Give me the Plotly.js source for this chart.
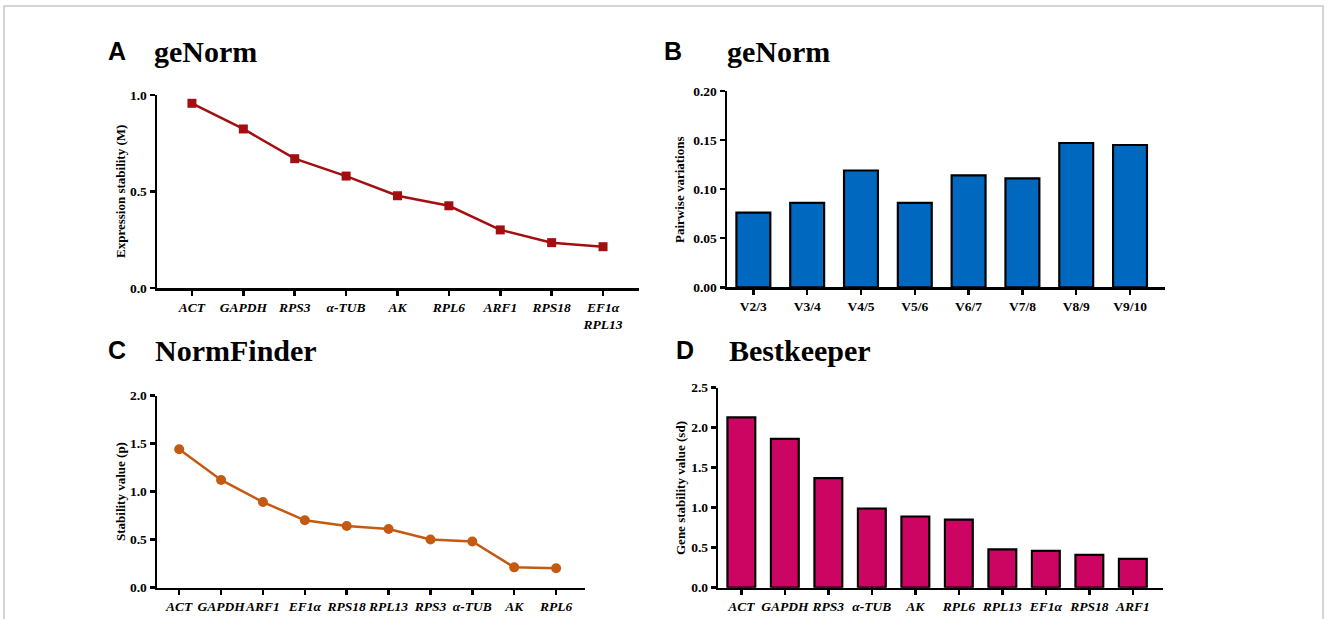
<!DOCTYPE html>
<html>
<head>
<meta charset="utf-8">
<script src="https://cdn.plot.ly/plotly-3.0.1.min.js"></script>
<style>html,body{margin:0;padding:0;background:#fff;}#chart{width:1328px;height:619px;}</style>
</head>
<body>
<div id="chart"></div>
<script>
// ---- Data ----
const genesA = ['ACT','GAPDH','RPS3','α-TUB','AK','RPL6','ARF1','RPS18','EF1α<br>RPL13'];
const valuesA = [0.957, 0.824, 0.670, 0.580, 0.478, 0.426, 0.301, 0.235, 0.214];

const pairsB = ['V2/3','V3/4','V4/5','V5/6','V6/7','V7/8','V8/9','V9/10'];
const valuesB = [0.076, 0.086, 0.119, 0.086, 0.114, 0.111, 0.147, 0.145];

const genesC = ['ACT','GAPDH','ARF1','EF1α','RPS18','RPL13','RPS3','α-TUB','AK','RPL6'];
const valuesC = [1.44, 1.12, 0.89, 0.70, 0.64, 0.61, 0.50, 0.48, 0.21, 0.20];

const genesD = ['ACT','GAPDH','RPS3','α-TUB','AK','RPL6','RPL13','EF1α','RPS18','ARF1'];
const valuesD = [2.13, 1.86, 1.37, 0.99, 0.89, 0.85, 0.48, 0.46, 0.41, 0.36];

// ---- Helpers ----
const W = 1328, H = 619;
const px = x => x / W;
const py = y => 1 - y / H;
const serif = 'Liberation Serif, Times New Roman, serif';
const sans = 'Liberation Sans, Arial, sans-serif';

function xAxis(dom, range, italic) {
  return {
    domain: [px(dom[0]), px(dom[1])], type: 'category', range: range,
    showline: true, linewidth: 2.5, linecolor: '#000', showgrid: false, zeroline: false,
    ticks: 'outside', ticklen: 5, tickwidth: 2.5, tickcolor: '#000', tickangle: 0,
    tickfont: {family: serif, size: 13.5, color: '#000', weight: 'bold', style: italic ? 'italic' : 'normal'},
    fixedrange: true
  };
}
function yAxis(dom, range, dtick, fmt) {
  return {
    domain: [py(dom[1]), py(dom[0])], range: range, dtick: dtick, tick0: 0, tickformat: fmt,
    showline: true, linewidth: 2.5, linecolor: '#000', showgrid: false, zeroline: false,
    ticks: 'outside', ticklen: 5, tickwidth: 2.5, tickcolor: '#000',
    tickfont: {family: serif, size: 13.5, color: '#000', weight: 'bold'},
    fixedrange: true
  };
}

const traces = [
  {type: 'scatter', mode: 'lines+markers', x: genesA, y: valuesA, xaxis: 'x', yaxis: 'y',
   line: {color: '#A50E10', width: 2.5}, marker: {symbol: 'square', size: 9, color: '#A50E10'}},
  {type: 'bar', x: pairsB, y: valuesB, xaxis: 'x2', yaxis: 'y2', width: 0.63,
   marker: {color: '#0069BF', line: {color: '#000', width: 2.2}}},
  {type: 'scatter', mode: 'lines+markers', x: genesC, y: valuesC, xaxis: 'x3', yaxis: 'y3',
   line: {color: '#C45A12', width: 2.5}, marker: {symbol: 'circle', size: 10, color: '#C45A12'}},
  {type: 'bar', x: genesD, y: valuesD, xaxis: 'x4', yaxis: 'y4', width: 0.64,
   marker: {color: '#CC0462', line: {color: '#000', width: 2.2}}}
];

function panelTitle(letter, title, lx, tx, yc) {
  return [
    {text: letter, x: px(lx), y: py(yc), xref: 'paper', yref: 'paper', xanchor: 'left', yanchor: 'middle',
     showarrow: false, font: {family: sans, size: 25, color: '#000', weight: 'bold'}},
    {text: title, x: px(tx), y: py(yc), xref: 'paper', yref: 'paper', xanchor: 'left', yanchor: 'middle',
     showarrow: false, font: {family: serif, size: 30, color: '#000', weight: 'bold'}}
  ];
}
function axisTitle(text, x, y) {
  return {text: text, x: px(x), y: py(y), xref: 'paper', yref: 'paper', xanchor: 'center', yanchor: 'middle',
          textangle: -90, showarrow: false, font: {family: serif, size: 13, color: '#000', weight: 'bold'}};
}

const annotations = [].concat(
  panelTitle('A', 'geNorm', 106, 152, 51),
  panelTitle('B', 'geNorm', 662, 725, 51),
  panelTitle('C', 'NormFinder', 106, 153, 350),
  panelTitle('D', 'Bestkeeper', 674, 727, 350),
  [axisTitle('Expression stability (M)', 120, 192),
   axisTitle('Pairwise variations', 680, 190),
   axisTitle('Stability value (p)', 120, 492),
   axisTitle('Gene stability value (sd)', 680, 488)]
);

const layout = {
  width: W, height: H, margin: {l: 0, r: 0, t: 0, b: 0},
  paper_bgcolor: '#fff', plot_bgcolor: 'rgba(0,0,0,0)', showlegend: false,
  xaxis: Object.assign(xAxis([157, 639], [-0.68, 8.70], true), {anchor: 'y'}),
  yaxis: Object.assign(yAxis([95, 288], [0, 1.0], 0.5, '.1f'), {anchor: 'x'}),
  xaxis2: Object.assign(xAxis([727, 1165], [-0.49, 7.65], false), {anchor: 'y2'}),
  yaxis2: Object.assign(yAxis([91, 287.3], [0, 0.20], 0.05, '.2f'), {anchor: 'x2'}),
  xaxis3: Object.assign(xAxis([157, 585], [-0.53, 9.69], true), {anchor: 'y3'}),
  yaxis3: Object.assign(yAxis([395.5, 587.5], [0, 2.0], 0.5, '.1f'), {anchor: 'x3'}),
  xaxis4: Object.assign(xAxis([718.3, 1163.3], [-0.53, 9.70], true), {anchor: 'y4'}),
  yaxis4: Object.assign(yAxis([387.7, 587.7], [0, 2.5], 0.5, '.1f'), {anchor: 'x4'}),
  annotations: annotations,
  shapes: [{type: 'rect', xref: 'paper', yref: 'paper', x0: px(4), x1: px(1323), y0: -0.05, y1: py(6),
            line: {color: '#C8C8C8', width: 1.5}, fillcolor: 'rgba(0,0,0,0)'}]
};

Plotly.newPlot('chart', traces, layout, {displayModeBar: false, staticPlot: true});
</script>
</body>
</html>
